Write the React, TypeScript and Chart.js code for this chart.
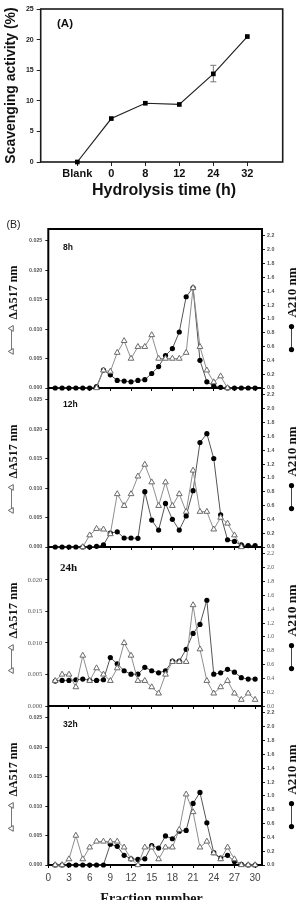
import React, { useEffect, useRef } from 'react';
import { Chart, registerables } from 'chart.js';

Chart.register(...registerables);

// ---------- Panel (A) data ----------
const A_CATEGORIES = ['Blank', '0', '8', '12', '24', '32'];
const A_POSITIONS = [0, 1, 2, 3, 4, 5];
const A_VALUES = [0, 7.1, 9.6, 9.4, 14.4, 20.5];
const A_ERR_LOW: (number | null)[] = [null, null, null, null, 13.1, null];
const A_ERR_HIGH: (number | null)[] = [null, null, null, null, 15.8, null];
const A_Y_TICKS = [0, 5, 10, 15, 20, 25];

// ---------- Panel (B) data ----------
const FRACTIONS = [1, 2, 3, 4, 5, 6, 7, 8, 9, 10, 11, 12, 13, 14, 15, 16, 17, 18, 19, 20, 21, 22, 23, 24, 25, 26, 27, 28, 29, 30];
const X_TICKS = [0, 3, 6, 9, 12, 15, 18, 21, 24, 27, 30];
const LEFT_TICKS = [0, 0.005, 0.01, 0.015, 0.02, 0.025];
const LEFT_TICKS_24 = [0, 0.005, 0.01, 0.015, 0.02];
const RIGHT_TICKS = [0, 0.2, 0.4, 0.6, 0.8, 1.0, 1.2, 1.4, 1.6, 1.8, 2.0, 2.2];
const PANEL_LABELS = ['8h', '12h', '24h', '32h'];

const A517_8H: (number | null)[] = [null, null, null, null, null, null, 0, 0.003, 0.0028, 0.006, 0.008, 0.005, 0.007, 0.007, 0.009, 0.005, 0.005, 0.005, 0.005, 0.006, 0.017, 0.007, 0.003, 0.001, 0.002, 0, null, null, null, null];
const A210_8H = [0, 0, 0, 0, 0, 0, 0.02, 0.26, 0.19, 0.11, 0.1, 0.09, 0.11, 0.12, 0.21, 0.31, 0.47, 0.57, 0.81, 1.32, 1.45, 0.4, 0.09, 0.03, 0.01, 0, 0, 0, 0, 0];

const A517_12H: (number | null)[] = [null, null, null, null, 0, 0.002, 0.0031, 0.003, 0.0022, 0.009, 0.007, 0.009, 0.012, 0.014, 0.011, 0.007, 0.011, 0.007, 0.009, 0.006, 0.013, 0.006, 0.006, 0.003, 0.005, 0.004, 0.002, 0, null, null];
const A210_12H = [0, 0, 0, 0, 0, 0, 0.01, 0.03, 0.2, 0.22, 0.13, 0.13, 0.125, 0.8, 0.39, 0.245, 0.63, 0.4, 0.245, 0.45, 0.815, 1.51, 1.64, 1.28, 0.465, 0.105, 0.08, 0.03, 0.02, 0.02];

const A517_24H: (number | null)[] = [0.004, 0.005, 0.005, 0.003, 0.008, 0.004, 0.006, 0.005, 0.004, 0.006, 0.01, 0.008, 0.004, 0.004, 0.003, 0.002, 0.005, 0.007, 0.007, 0.007, 0.016, 0.009, 0.004, 0.002, 0.003, 0.004, 0.002, 0.001, 0.002, 0.001];
const A210_24H = [0.36, 0.37, 0.37, 0.38, 0.39, 0.37, 0.37, 0.38, 0.7, 0.61, 0.51, 0.46, 0.46, 0.56, 0.51, 0.48, 0.51, 0.65, 0.65, 0.82, 1.05, 1.18, 1.53, 0.46, 0.48, 0.53, 0.49, 0.41, 0.39, 0.39];

const A517_32H: (number | null)[] = [0, 0, 0.001, 0.005, 0.001, 0.003, 0.004, 0.004, 0.004, 0.004, 0.003, 0.001, 0, 0.003, 0.003, 0.001, 0.003, 0.003, 0.006, 0.012, 0.009, 0.003, 0.004, 0.002, 0.001, 0.003, 0.001, 0, 0, 0];
const A210_32H = [0, 0, 0, 0, 0, 0, 0, 0, 0.3, 0.27, 0.14, 0.09, 0.08, 0.09, 0.28, 0.245, 0.42, 0.38, 0.49, 0.5, 0.89, 1.05, 0.61, 0.18, 0.1, 0.14, 0.05, 0.01, 0, 0];

const LEFT_MAXES = [0.027, 0.027, 0.0252, 0.027];
const RIGHT_MAX = 2.3;

const SERIF = '"Liberation Serif", "Times New Roman", serif';
const SANS = '"Liberation Sans", Arial, sans-serif';

type PanelDef = {
  label: string;
  a517: (number | null)[];
  a210: number[];
  leftMax: number;
  leftTicks: number[];
  top: number;
  bottom: number;
  serif: boolean;
  titleSize: number;
  labelOffset: number;
  first: boolean;
  last: boolean;
};

const PANEL_TOPS = [229, 388, 547, 706];
const PANEL_BOTTOMS = [388, 547, 706, 865];
const TITLE_SIZES = [12, 12, 12.5, 12];
const LABEL_OFFSETS = [18.5, 17, 21, 18.5];

const PANELS: PanelDef[] = [
  { a517: A517_8H, a210: A210_8H, leftTicks: LEFT_TICKS, serif: false },
  { a517: A517_12H, a210: A210_12H, leftTicks: LEFT_TICKS, serif: false },
  { a517: A517_24H, a210: A210_24H, leftTicks: LEFT_TICKS_24, serif: true },
  { a517: A517_32H, a210: A210_32H, leftTicks: LEFT_TICKS, serif: false },
].map((p, i) => ({
  ...p,
  label: PANEL_LABELS[i],
  leftMax: LEFT_MAXES[i],
  top: PANEL_TOPS[i],
  bottom: PANEL_BOTTOMS[i],
  titleSize: TITLE_SIZES[i],
  labelOffset: LABEL_OFFSETS[i],
  first: i === 0,
  last: i === 3,
}));

// ---------- Panel A plugin ----------
const panelAPlugin = {
  id: 'panelA',
  beforeDatasetsDraw(chart: any) {
    const { ctx, chartArea: ca, scales } = chart;
    ctx.save();
    ctx.strokeStyle = '#1a1a1a';
    ctx.lineWidth = 1.6;
    ctx.strokeRect(ca.left, ca.top, ca.right - ca.left, ca.bottom - ca.top);
    ctx.strokeStyle = '#777';
    ctx.lineWidth = 1;
    A_POSITIONS.forEach((p, i) => {
      const lo = A_ERR_LOW[i];
      const hi = A_ERR_HIGH[i];
      if (lo == null || hi == null) return;
      const x = scales.x.getPixelForValue(p);
      const y1 = scales.y.getPixelForValue(lo);
      const y2 = scales.y.getPixelForValue(hi);
      ctx.beginPath();
      ctx.moveTo(x, y1);
      ctx.lineTo(x, y2);
      ctx.moveTo(x - 3, y1);
      ctx.lineTo(x + 3, y1);
      ctx.moveTo(x - 3, y2);
      ctx.lineTo(x + 3, y2);
      ctx.stroke();
    });
    ctx.restore();
  },
  afterDraw(chart: any) {
    const { ctx, chartArea: ca } = chart;
    ctx.save();
    ctx.fillStyle = '#111';
    ctx.font = `bold 11.5px ${SANS}`;
    ctx.textAlign = 'left';
    ctx.textBaseline = 'middle';
    ctx.fillText('(A)', 57, 23.5);
    ctx.font = `bold 16px ${SANS}`;
    ctx.textAlign = 'center';
    ctx.fillText('Hydrolysis time (h)', 164, 190.5);
    ctx.translate(11, (ca.top + ca.bottom) / 2);
    ctx.rotate(-Math.PI / 2);
    ctx.font = `bold 14px ${SANS}`;
    ctx.fillText('Scavenging activity (%)', 0, 0);
    ctx.restore();
  },
};

// ---------- Panel B plugin ----------
function drawLeftGlyph(ctx: CanvasRenderingContext2D, x: number, y1: number, y2: number) {
  ctx.save();
  ctx.strokeStyle = '#777';
  ctx.lineWidth = 1;
  ctx.beginPath();
  ctx.moveTo(x, y1);
  ctx.lineTo(x, y2);
  ctx.stroke();
  const r = 3.2;
  [y1, y2].forEach((y) => {
    ctx.beginPath();
    ctx.moveTo(x - r, y);
    ctx.lineTo(x + r * 0.55, y - r * 0.9);
    ctx.lineTo(x + r * 0.55, y + r * 0.9);
    ctx.closePath();
    ctx.fillStyle = '#fff';
    ctx.fill();
    ctx.strokeStyle = '#666';
    ctx.stroke();
  });
  ctx.restore();
}

function drawRightGlyph(ctx: CanvasRenderingContext2D, x: number, y1: number, y2: number) {
  ctx.save();
  ctx.strokeStyle = '#444';
  ctx.lineWidth = 1;
  ctx.beginPath();
  ctx.moveTo(x, y1);
  ctx.lineTo(x, y2);
  ctx.stroke();
  ctx.fillStyle = '#000';
  [y1, y2].forEach((y) => {
    ctx.beginPath();
    ctx.arc(x, y, 2.6, 0, Math.PI * 2);
    ctx.fill();
  });
  ctx.restore();
}

function drawTitleWithGlyph(
  ctx: CanvasRenderingContext2D,
  text: string,
  font: string,
  tx: number,
  gx: number,
  cy: number,
  side: 'left' | 'right'
) {
  ctx.save();
  ctx.font = font;
  const tw = ctx.measureText(text).width;
  const gap = 9;
  const glen = 23;
  const total = tw + gap + glen;
  const top = cy - total / 2;
  ctx.fillStyle = '#111';
  ctx.translate(tx, top + tw / 2);
  ctx.rotate(-Math.PI / 2);
  ctx.textAlign = 'center';
  ctx.textBaseline = 'middle';
  ctx.fillText(text, 0, 0);
  ctx.restore();
  const y1 = top + tw + gap;
  if (side === 'left') drawLeftGlyph(ctx, gx, y1, y1 + glen);
  else drawRightGlyph(ctx, gx, y1, y1 + glen);
}

const panelBPlugin = {
  id: 'panelB',
  beforeDatasetsDraw(chart: any, _args: any, opts: any) {
    const { ctx, chartArea: ca } = chart;
    ctx.save();
    ctx.strokeStyle = '#000';
    ctx.lineWidth = 2;
    ctx.beginPath();
    if (opts.first) {
      ctx.moveTo(ca.left, ca.bottom);
      ctx.lineTo(ca.left, ca.top);
      ctx.lineTo(ca.right, ca.top);
      ctx.lineTo(ca.right, ca.bottom);
    } else {
      ctx.moveTo(ca.left, ca.top);
      ctx.lineTo(ca.left, ca.bottom);
      ctx.moveTo(ca.right, ca.top);
      ctx.lineTo(ca.right, ca.bottom);
    }
    ctx.moveTo(ca.left - 1, ca.bottom);
    ctx.lineTo(ca.right + 1, ca.bottom);
    ctx.stroke();
    ctx.restore();
  },
  afterDraw(chart: any, _args: any, opts: any) {
    const { ctx, chartArea: ca } = chart;
    ctx.save();
    ctx.fillStyle = '#111';
    ctx.textBaseline = 'middle';
    ctx.textAlign = 'left';
    if (opts.serif) {
      ctx.font = `bold 11px ${SERIF}`;
      ctx.fillText(opts.label, 60, ca.top + opts.labelOffset);
    } else {
      ctx.font = `bold 8.5px ${SANS}`;
      ctx.fillText(opts.label, 63, ca.top + opts.labelOffset);
    }
    if (opts.first) {
      ctx.font = `10.5px ${SANS}`;
      ctx.fillStyle = '#222';
      ctx.fillText('(B)', 6.5, ca.top - 4);
    }
    ctx.restore();
    const cy = (ca.top + ca.bottom) / 2;
    const font = `bold ${opts.titleSize}px ${SERIF}`;
    drawTitleWithGlyph(ctx, '\u0394A517 nm', font, 14, 11.5, cy, 'left');
    drawTitleWithGlyph(ctx, 'A210 nm', `bold ${opts.titleSize + 1}px ${SERIF}`, 292.5, 291.5, cy, 'right');
    if (opts.last) {
      ctx.save();
      ctx.fillStyle = '#111';
      ctx.font = `bold 14px ${SERIF}`;
      ctx.textAlign = 'center';
      ctx.textBaseline = 'alphabetic';
      ctx.fillText('Fraction number', 151.5, 902.5 - (chart.canvas.offsetTop || 0));
      ctx.restore();
    }
  },
};

function PanelA() {
  const ref = useRef<HTMLCanvasElement>(null);
  useEffect(() => {
    const chart = new Chart(ref.current as HTMLCanvasElement, {
      type: 'line',
      data: {
        datasets: [
          {
            data: A_POSITIONS.map((p, i) => ({ x: p, y: A_VALUES[i] })),
            borderColor: '#222',
            borderWidth: 1.2,
            pointStyle: 'rect',
            pointRadius: 3.3,
            pointBackgroundColor: '#000',
            pointBorderColor: '#000',
            pointBorderWidth: 0,
            tension: 0,
            clip: false,
          } as any,
        ],
      },
      options: {
        responsive: false,
        devicePixelRatio: 1,
        animation: false,
        layout: { padding: { top: 9, right: 14.3, left: 0, bottom: 0 } },
        plugins: { legend: { display: false }, tooltip: { enabled: false } },
        scales: {
          x: {
            type: 'linear',
            min: -1.076,
            max: 6.04,
            afterBuildTicks: (s: any) => {
              s.ticks = A_POSITIONS.map((v) => ({ value: v }));
            },
            afterFit: (s: any) => {
              s.height = 38;
            },
            ticks: {
              autoSkip: false,
              maxRotation: 0,
              padding: 1,
              color: '#111',
              font: { size: 11, weight: 'bold', family: SANS },
              callback: (_v: any, i: number) => A_CATEGORIES[i],
            },
            grid: { drawOnChartArea: false, drawTicks: true, tickLength: 4, color: '#222', lineWidth: 1 },
            border: { display: false },
          },
          y: {
            type: 'linear',
            min: 0,
            max: 25,
            afterBuildTicks: (s: any) => {
              s.ticks = A_Y_TICKS.map((v) => ({ value: v }));
            },
            afterFit: (s: any) => {
              s.width = 40.7;
            },
            ticks: {
              padding: 3,
              color: '#222',
              font: { size: 7, weight: 'bold', family: SANS },
            },
            grid: { drawOnChartArea: false, drawTicks: true, tickLength: 4, color: '#222', lineWidth: 1 },
            border: { display: false },
          },
        },
      } as any,
      plugins: [panelAPlugin as any],
    });
    return () => chart.destroy();
  }, []);
  return (
    <canvas
      ref={ref}
      width={297}
      height={200}
      style={{ position: 'absolute', left: 0, top: 0, width: 297, height: 200 }}
    />
  );
}

function PanelB({ p }: { p: PanelDef }) {
  const ref = useRef<HTMLCanvasElement>(null);
  const padTop = p.first ? 20 : 12;
  const canvasTop = p.top - padTop;
  const bottomH = p.last ? 900 - p.bottom : 12;
  const height = p.bottom - canvasTop + bottomH;
  useEffect(() => {
    const tickFontL = p.serif
      ? { size: 6.5, family: SERIF }
      : { size: 5.3, weight: 'bold', family: SANS };
    const tickFontR = p.serif
      ? { size: 5.8, family: SERIF }
      : { size: 5.3, weight: 'bold', family: SANS };
    const chart = new Chart(ref.current as HTMLCanvasElement, {
      type: 'line',
      data: {
        datasets: [
          {
            label: 'A517',
            data: FRACTIONS.map((f, i) => ({ x: f, y: p.a517[i] })),
            yAxisID: 'yL',
            borderColor: '#8e8e8e',
            borderWidth: 1,
            pointStyle: 'triangle',
            pointRadius: 3.3,
            pointBackgroundColor: '#fff',
            pointBorderColor: '#6a6a6a',
            pointBorderWidth: 1,
            spanGaps: false,
            tension: 0,
            clip: false,
            order: 0,
          } as any,
          {
            label: 'A210',
            data: FRACTIONS.map((f, i) => ({ x: f, y: p.a210[i] })),
            yAxisID: 'yR',
            borderColor: '#555',
            borderWidth: 1,
            pointStyle: 'circle',
            pointRadius: 2.6,
            pointBackgroundColor: '#000',
            pointBorderColor: '#000',
            pointBorderWidth: 0,
            tension: 0,
            clip: false,
            order: 1,
          } as any,
        ],
      },
      options: {
        responsive: false,
        devicePixelRatio: 1,
        animation: false,
        layout: { padding: { top: padTop, left: 0, right: 0, bottom: 0 } },
        plugins: {
          legend: { display: false },
          tooltip: { enabled: false },
          panelB: {
            label: p.label,
            serif: p.serif,
            first: p.first,
            last: p.last,
            titleSize: p.titleSize,
            labelOffset: p.labelOffset,
          },
        },
        scales: {
          x: {
            type: 'linear',
            min: 0,
            max: 31.0,
            afterBuildTicks: (s: any) => {
              s.ticks = X_TICKS.map((v) => ({ value: v }));
            },
            afterFit: (s: any) => {
              s.height = bottomH;
            },
            ticks: {
              display: p.last,
              autoSkip: false,
              maxRotation: 0,
              padding: 4,
              color: '#444',
              font: { size: 10, family: SANS },
            },
            grid: { drawOnChartArea: false, drawTicks: true, tickLength: 3, color: '#000', lineWidth: 1 },
            border: { display: false },
          },
          yL: {
            type: 'linear',
            position: 'left',
            min: 0,
            max: p.leftMax,
            afterBuildTicks: (s: any) => {
              s.ticks = p.leftTicks.map((v) => ({ value: v }));
            },
            afterFit: (s: any) => {
              s.width = 48.3;
            },
            ticks: {
              padding: 3,
              color: '#555',
              font: tickFontL,
              callback: (v: any) => Number(v).toFixed(3),
            },
            grid: { drawOnChartArea: false, drawTicks: true, tickLength: 3, color: '#222', lineWidth: 1 },
            border: { display: false },
          },
          yR: {
            type: 'linear',
            position: 'right',
            min: 0,
            max: RIGHT_MAX,
            afterBuildTicks: (s: any) => {
              s.ticks = RIGHT_TICKS.map((v) => ({ value: v }));
            },
            afterFit: (s: any) => {
              s.width = 35;
            },
            ticks: {
              padding: 2,
              color: '#555',
              font: tickFontR,
              callback: (v: any) => Number(v).toFixed(1),
            },
            grid: { drawOnChartArea: false, drawTicks: true, tickLength: 3, color: '#222', lineWidth: 1 },
            border: { display: false },
          },
        },
      } as any,
      plugins: [panelBPlugin as any],
    });
    return () => chart.destroy();
  }, []);
  return (
    <canvas
      ref={ref}
      width={297}
      height={height}
      style={{ position: 'absolute', left: 0, top: canvasTop, width: 297, height }}
    />
  );
}

export default function App() {
  return (
    <div
      style={{
        position: 'absolute',
        left: 0,
        top: 0,
        width: 297,
        height: 900,
        overflow: 'hidden',
        background: '#fff',
      }}
    >
      <PanelA />
      {PANELS.map((p) => (
        <PanelB key={p.label} p={p} />
      ))}
    </div>
  );
}
